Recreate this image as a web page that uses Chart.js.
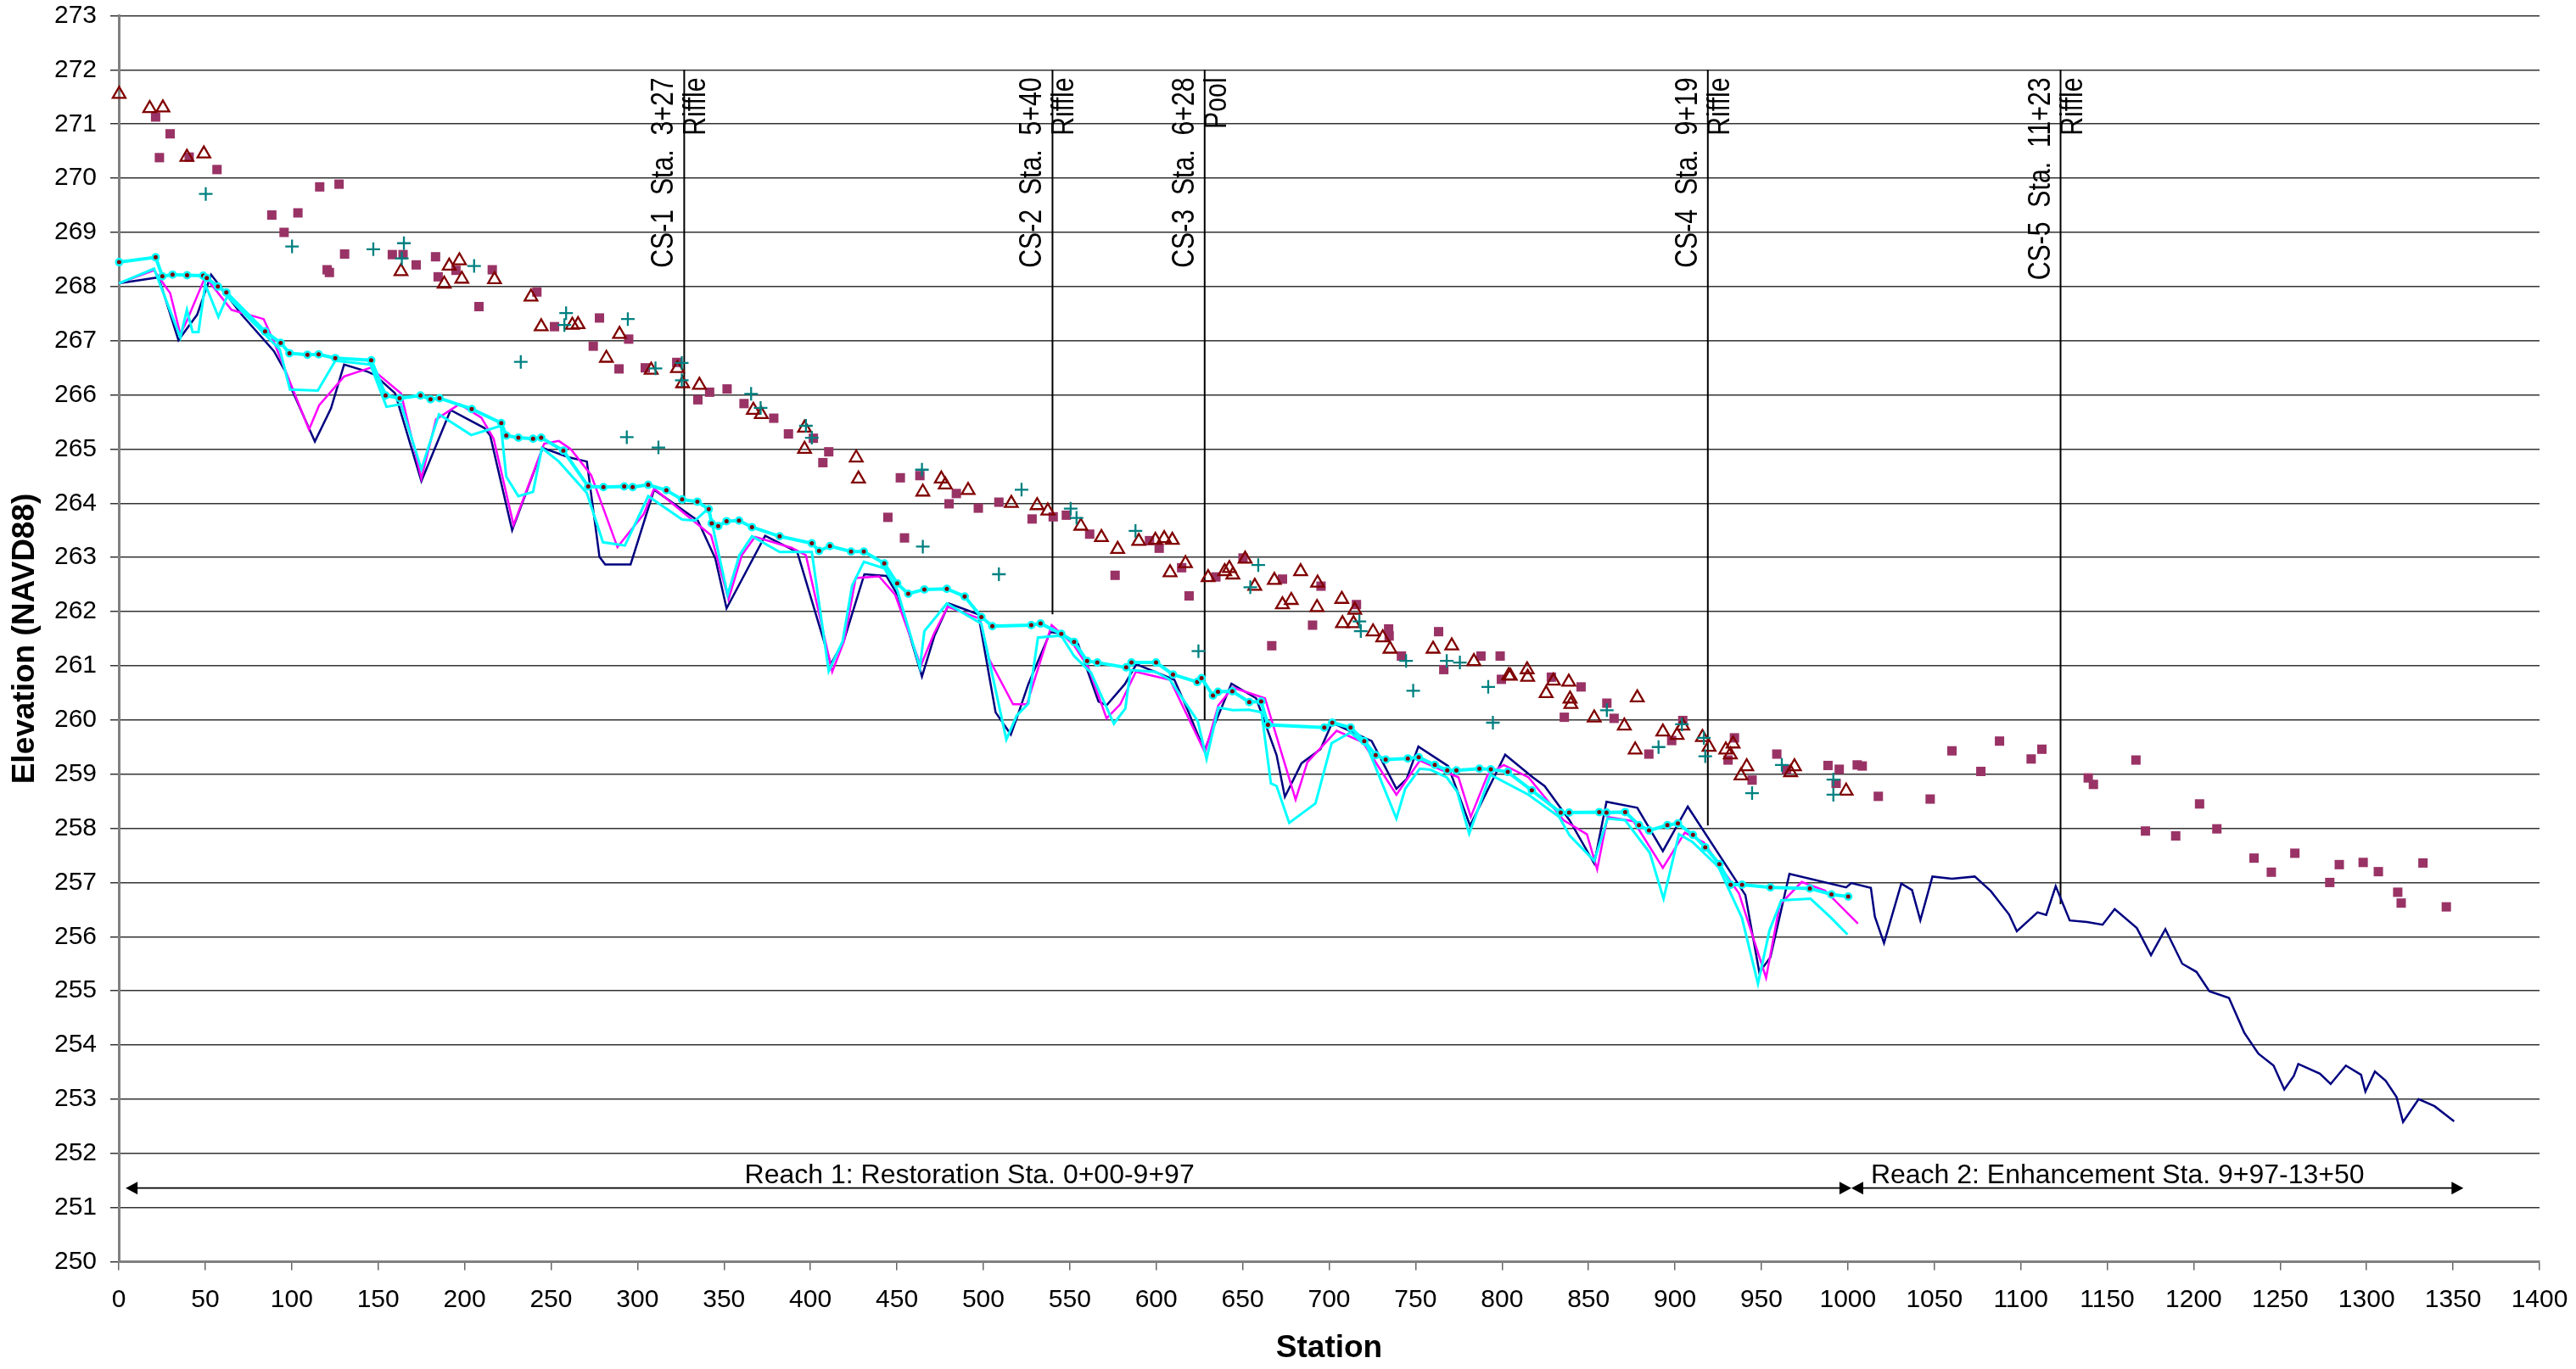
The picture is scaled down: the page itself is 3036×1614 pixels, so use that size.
<!DOCTYPE html>
<html><head><meta charset="utf-8">
<script src="https://cdn.jsdelivr.net/npm/chart.js@4.4.1/dist/chart.umd.min.js"></script>
<style>html,body{margin:0;padding:0;background:#fff;}#wrap{width:3036px;height:1614px;}</style>
</head><body><div id="wrap"><canvas id="c" width="3036" height="1614"></canvas></div>
<script>
// ---- Navy profile (full length) ----
const navySta = [0,23,34.5,45.3,53.4,71.1,89.7,96.5,99.9,113.4,122.7,130.3,143.8,148,159.8,175,191.9,211.4,214.8,227.5,245.2,260,270.7,278,281.3,296,309.6,334.9,345,351.5,373.8,392.4,411.8,419.4,431.2,443.9,450.7,464.5,471.8,480.2,497.1,507.1,515.9,519.3,526,538.7,544.6,554.7,566.6,571.3,581.8,588.5,610.5,618.1,627.9,632.5,643.5,657.8,669.6,674.4,684,695,701.8,713.6,724.6,738.9,744.8,751.6,768.8,781.5,801.8,817.8,824.6,839,853.3,860.4,878.2,893,907.4,940.7,948.8,955.2,966.2,999,1002,1013.3,1015.6,1020.9,1030.9,1037.1,1041.9,1048.9,1060.2,1073.4,1082.7,1093.2,1097.7,1109.7,1114.7,1120.2,1128.3,1138.3,1147.3,1154.3,1167.1,1175.3,1183.6,1193.4,1201.6,1209.1,1220.4,1229.2,1237.4,1246.2,1252.4,1257.9,1260.5,1273,1279.2,1288,1296.8,1299.3,1304.8,1311,1317.3,1321.1,1330.1,1339.3,1350.6];
const navyElev = [268.06,268.17,267.01,267.48,268.22,267.48,266.81,266.42,266.11,265.14,265.75,266.56,266.43,266.37,266.03,264.41,265.72,265.39,265.25,263.5,265.02,264.85,264.77,263.01,262.87,262.87,264.25,263.68,262.98,262.06,263.4,263.1,261.03,261.47,262.69,262.66,262.29,260.8,261.56,262.15,261.95,260.14,259.73,260.03,260.66,261.62,261.6,261.41,260.34,260.27,260.66,261.03,260.74,260.19,259.43,259.82,260.67,260.4,259.35,258.58,259.2,259.46,259.95,259.77,259.61,258.73,258.91,259.51,259.15,258.05,259.36,258.94,258.78,258.15,257.35,258.49,258.38,257.58,258.4,256.77,255.34,255.62,257.16,256.91,256.99,256.9,256.37,255.88,256.98,256.86,256.3,257.11,257.07,257.11,256.84,256.41,256.1,256.45,256.4,256.93,256.3,256.27,256.22,256.51,256.16,255.66,256.14,255.5,255.35,254.99,254.87,254.23,253.84,253.62,253.18,253.43,253.65,253.47,253.28,253.62,253.45,253.14,253.51,253.34,253.04,252.58,253,252.87,252.59];

// ---- Magenta profile ----
const magentaSta = [0,20.4,29.7,35.6,39.4,50,65.2,83.8,89.7,110,115.9,130.3,145.5,163.2,175,183.5,197,209.7,216.8,228.3,246,254.5,261.4,273.2,288.4,303.6,309.6,342.5,352.6,360.3,367.9,389,397.4,412.6,419.4,426.2,439.7,449,463.8,471.4,479.4,498,503.2,517.2,525.2,539.5,552.2,560.7,571.3,579.2,588.2,608,628.2,635.9,644.3,662.9,680.6,687.4,704.3,719.5,738.9,752.4,774.8,781.9,791.7,801,815.3,835.6,849.1,855,861,876.1,893,905.7,916.7,937,952.7,960.6,973.3,986.8,1005.8];
const magentaElev = [268.06,268.3,267.88,267.12,267.37,268.18,267.57,267.4,266.98,265.36,265.81,266.34,266.5,266.03,264.46,265.55,265.83,265.58,265.19,263.6,265.1,265.15,265,264.52,263.19,263.8,264.27,263.41,262.23,263.04,263.38,263.18,263.04,260.89,261.45,262.62,262.65,262.31,261,261.59,262.09,261.87,261.13,260.29,260.29,261.75,261.39,260.97,260.03,260.29,260.89,260.74,259.4,260.27,260.6,260.4,258.53,259.22,259.8,259.59,258.62,259.25,258.94,258.21,258.99,259.17,258.94,258.15,257.89,257.24,258.21,258.13,257.27,257.92,257.74,256.8,255.24,256.59,257.01,256.85,256.24];

// ---- Cyan profile ----
const cyanSta = [0,20.4,35.6,39.4,42.7,46.1,50,57.6,62.7,93.1,99,115.1,125.2,145.5,154.8,163.2,175,185.2,203.8,221,224.1,231.1,239.6,244.7,254.5,270.7,280,292.7,306.2,325.8,333.2,341.2,352.1,358.9,366.2,382.2,400.8,410.6,418.6,424.1,430.9,442.7,450.2,463.3,465.9,478.9,498.8,513.3,519.3,526,531.6,545,552.5,562.3,575.5,582.1,585.2,599.5,608,624,629.1,635.9,644.3,653.6,660.9,666.3,669.6,676.9,692.1,701.4,712.4,722,738.9,744,752.4,758.7,768,774,781,793.3,815.3,833,839,853.3,861,871.1,885.4,893.4,902.3,910,925.1,938.7,948,954.7,961.5,978.4,990.2,999.8];
const cyanElev = [268.06,268.33,267.06,267.57,267.16,267.16,268.04,267.44,267.82,266.84,266.1,266.08,266.63,266.56,265.78,265.83,264.63,265.64,265.26,265.43,264.49,264.13,264.21,265.02,264.77,264.19,263.28,263.22,264.13,263.7,263.68,263.91,262.31,263.04,263.39,263.1,263.1,260.9,261.45,262.48,262.92,262.8,262.4,260.97,261.64,262.15,261.78,259.64,260.08,260.3,261.52,261.56,261.18,260.87,259.93,260.21,260.92,260.89,260.74,259.98,259.28,260.23,260.18,260.19,260.14,258.83,258.78,258.1,258.46,259.57,259.77,259.51,258.18,258.73,259.1,259.08,258.94,258.68,257.9,258.99,258.62,258.21,257.87,257.4,258.18,258.15,257.55,256.7,257.89,257.75,257.29,256.35,255.13,256.12,256.67,256.7,256.35,256.04];

// ---- Water surface (cyan with dots) ----
const wsSta = [0.2,21.3,25.2,31.1,39.5,48.8,50.9,57.3,62.2,84.6,93.6,98.7,109.1,115.6,125.2,146,154.3,162.4,174.5,180.3,185.5,204.1,221.2,224.1,231.1,239.6,244.3,257.1,271.5,280.3,292.3,297.2,306.2,316.7,325.8,334.6,341.2,342.9,346.7,351.5,358.7,366.2,382.2,400.8,405,411.3,423.5,430.9,442.7,450.2,456.6,465.9,478.9,489.2,498.9,505.2,527.7,533.1,545.1,552.5,560,565.9,582.6,585.7,599.9,609.7,623.7,626.2,632.8,635.7,644,653.8,660.7,664.6,697.2,701.8,712.4,720.3,726.9,732.7,745.5,751.8,761.1,768.3,773.6,786.9,793.5,803.3,817.2,833.9,838.8,856.2,860.4,871.2,879.2,885,895.6,901.7,910.4,917.5,925.7,932.2,938.8,955.2,978,990.5,1000.2];
const wsElev = [268.45,268.54,268.19,268.22,268.21,268.2,268.16,268,267.89,267.17,266.96,266.77,266.74,266.75,266.68,266.64,265.99,265.94,265.99,265.92,265.94,265.74,265.48,265.25,265.21,265.19,265.21,264.97,264.31,264.3,264.31,264.3,264.34,264.24,264.07,264.03,263.89,263.63,263.58,263.67,263.68,263.56,263.39,263.26,263.12,263.21,263.11,263.11,262.89,262.52,262.33,262.41,262.42,262.28,261.9,261.73,261.75,261.78,261.59,261.44,261.09,261.06,260.97,261.06,261.06,260.84,260.7,260.77,260.45,260.52,260.53,260.33,260.34,259.91,259.86,259.95,259.86,259.61,259.35,259.27,259.29,259.31,259.17,259.07,259.07,259.1,259.09,259.04,258.7,258.29,258.29,258.3,258.29,258.3,258.06,257.96,258.06,258.09,257.88,257.65,257.34,256.96,256.96,256.91,256.89,256.78,256.74];

// ---- Squares ----
const sqSta = [21.3,23.5,29.7,40.7,56.8,88.5,95.6,103.6,116.2,120.5,121.8,127.4,130.6,158.2,164.4,172,183.2,184.7,195,208.3,216,241.8,252,274.4,278,289.3,294.9,304.5,322.7,334.9,341.7,351.8,361.6,378.8,387.3,401.7,407.2,410.6,444.8,452,454.4,463.3,480.2,484.4,497.1,509,528.2,540.4,548,561.5,576.2,596.1,601.7,614.7,619,634.5,650.2,666.8,673,690.4,695.3,715.8,734.4,734.7,741.8,763.3,766.3,787.8,798.9,799.6,828.5,836,845.7,860.6,864.8,884.9,898.1,904.5,930.7,934.4,944.6,958.9,964.5,988.5,993.2,995,1005.4,1008.3,1017.6,1047.6,1060.2,1076.9,1087.7,1106,1112.2,1139,1142,1166.6,1172.1,1189.6,1203.4,1213.4,1234.9,1244.9,1258.5,1278.7,1284.2,1298,1306.8,1318,1320,1332.6,1346.1];
const sqElev = [271.13,270.38,270.82,270.39,270.16,269.32,269,269.36,269.84,268.31,268.26,269.89,268.6,268.59,268.59,268.4,268.55,268.18,268.3,267.63,268.31,267.9,267.26,266.9,267.42,266.48,267.03,266.5,266.6,265.91,266.05,266.11,265.84,265.57,265.28,265.2,264.75,264.95,263.74,264.47,263.36,264.51,263.99,264.18,263.91,264.02,263.71,263.75,263.78,263.43,262.67,263.31,263.17,262.81,262.29,262.64,262.99,261.37,262.6,261.75,262.47,262.13,261.68,261.55,261.18,261.63,260.93,261.18,261.18,260.75,260.79,260.05,260.61,260.31,260.03,259.37,259.62,259.99,259.26,259.67,258.89,259.37,259.09,259.16,258.83,259.09,259.17,259.15,258.59,258.54,259.43,259.05,259.61,259.28,259.46,258.93,258.81,259.26,257.95,257.86,258.45,257.99,257.45,257.19,257.54,257,257.33,257.37,257.2,256.82,256.62,257.36,256.55];

// ---- Open triangles ----
const triSta = [0.2,17.9,25.5,39.4,49.2,163.2,188.2,191.1,197,198.4,217.3,238.4,244.3,262.3,265.6,282,289.6,307.9,323.1,326.1,335.8,367,371.6,396.6,396.6,426.5,427.8,465,475.7,478,491.2,516.2,531.1,537.3,556.4,568.3,577.7,589.9,599.5,604.6,608,609.3,616.9,630,639.6,642.3,644.3,651.4,657,668.3,673,678.1,683.5,693,693.3,707.3,707.7,714.1,714.8,725.4,731,735.2,760.1,770.9,783.7,803.8,804.8,814.5,814.8,825.5,829.7,838.6,839.3,839.8,853.3,870.7,877,878.2,893,901.2,904.5,915.9,919.7,929.4,932,933.6,938.2,941.5,966.9,969.1,999];
const triElev = [271.55,271.29,271.3,270.39,270.45,268.28,268.05,268.38,268.48,268.14,268.13,267.81,267.26,267.29,267.3,266.68,267.12,266.46,266.49,266.21,266.18,265.72,265.64,265.39,265,264.84,264.45,264.21,264.45,264.34,264.24,264,263.96,263.86,263.58,263.37,263.15,263.3,263.32,263.35,262.72,263.32,262.89,262.63,262.74,262.8,262.68,262.97,262.47,262.58,262.13,262.21,262.74,262.08,262.53,262.23,261.78,261.78,262.03,261.63,261.52,261.31,261.31,261.37,261.08,260.82,260.81,260.93,260.79,260.49,260.72,260.7,260.39,260.29,260.04,259.89,259.45,260.41,259.78,259.72,259.89,259.68,259.5,259.45,259.36,259.56,258.97,259.14,259.03,259.14,258.69];

// ---- Plus markers ----
const plusSta = [50.3,100.2,147.2,163.7,164.9,205.5,232.5,257.7,258.7,293.8,294.4,310.4,312.1,325.6,325.6,365.7,371.2,397.4,400.8,464.5,465,509,522.1,550.5,553.9,588,624.4,654.4,659,717.5,718.3,744.5,748.6,768,775.6,792,794.7,860.6,890.5,904,916.7,917.5,944.6,961.8,991.6,991.6];
const plusElev = [269.71,268.74,268.69,268.52,268.8,268.38,266.61,267.29,267.51,265.22,267.4,266.49,265.03,266.59,266.27,266.02,265.76,265.43,265.21,264.62,263.2,262.69,264.25,263.9,263.73,263.49,261.27,262.45,262.86,261.82,261.64,261.09,260.54,261.09,261.06,260.61,259.95,260.18,259.5,259.92,259.67,259.33,258.65,259.17,258.9,258.62];

// ---- Cross-section markers ----
const csSta = [327, 540, 628, 919, 1123];
const csTop = [272, 272, 272, 272, 272];
const csBottom = [264.0, 261.95, 260.0, 258.05, 256.6];
const csLabels = ['CS-1  Sta.  3+27', 'CS-2  Sta.  5+40', 'CS-3  Sta.  6+28', 'CS-4  Sta.  9+19', 'CS-5  Sta.  11+23'];
const csTypes = ['Riffle', 'Riffle', 'Pool', 'Riffle', 'Riffle'];

// ---- Reach annotations ----
const reachLabels = ['Reach 1: Restoration Sta. 0+00-9+97', 'Reach 2: Enhancement Sta. 9+97-13+50'];
const reachStart = [4, 1002];
const reachEnd = [1002, 1356];
const reachLabelSta = [492, 1156];
const reachElev = 251.36;

// ---- Axes ----
const xMin = 0, xMax = 1400, xStep = 50;
const yMin = 250, yMax = 273, yStep = 1;
const xTitle = 'Station';
const yTitle = 'Elevation (NAVD88)';

const FONT = "'Liberation Sans', Arial, sans-serif";
Chart.defaults.font.family = FONT;
Chart.defaults.color = '#000';

function pts(xs, ys) { return xs.map((x, i) => ({ x: x, y: ys[i] })); }

const datasets = [];
datasets.push({ label: 'plus', data: pts(plusSta, plusElev), showLine: false, clip: false, pointStyle: 'cross', pointRadius: 8, pointBorderColor: '#008080', pointBorderWidth: 2.3, pointBackgroundColor: '#008080' });
datasets.push({ label: 'tri', data: pts(triSta, triElev), showLine: false, clip: false, pointStyle: 'triangle', pointRadius: 8.7, pointBorderColor: '#800000', pointBorderWidth: 2.3, pointBackgroundColor: 'rgba(0,0,0,0)' });
datasets.push({ label: 'sq', data: pts(sqSta, sqElev), showLine: false, clip: false, pointStyle: 'rect', pointRadius: 7.8, pointBorderWidth: 0, pointBorderColor: '#993366', pointBackgroundColor: '#993366' });
datasets.push({ label: 'ws', data: pts(wsSta, wsElev), showLine: true, clip: false, borderColor: '#00FFFF', borderWidth: 4, pointRadius: 3.75, pointStyle: 'circle', pointBackgroundColor: '#800000', pointBorderColor: '#00FFFF', pointBorderWidth: 2.5 });
datasets.push({ label: 'cyan', data: pts(cyanSta, cyanElev), showLine: true, borderColor: '#00FFFF', borderWidth: 3, pointRadius: 0 });
datasets.push({ label: 'magenta', data: pts(magentaSta, magentaElev), showLine: true, borderColor: '#FF00FF', borderWidth: 2.5, pointRadius: 0 });
datasets.push({ label: 'navy', data: pts(navySta, navyElev), showLine: true, borderColor: '#000080', borderWidth: 2.5, pointRadius: 0 });
csSta.forEach((s, i) => {
  datasets.push({ label: 'cs' + i, data: [{ x: s, y: csTop[i] }, { x: s, y: csBottom[i] }], showLine: true, borderColor: '#000', borderWidth: 2, pointRadius: 0 });
});

const annot = {
  id: 'annot',
  afterDatasetsDraw(chart) {
    const ctx = chart.ctx, xs = chart.scales.x, ys = chart.scales.y;
    ctx.save();
    ctx.fillStyle = '#000';
    // CS labels
    ctx.font = '36px ' + FONT;
    ctx.textAlign = 'right';
    ctx.textBaseline = 'alphabetic';
    csSta.forEach((s, i) => {
      const px = xs.getPixelForValue(s);
      const py = ys.getPixelForValue(csTop[i]) + 9;
      [[csLabels[i], px - 13], [csTypes[i], px + 25]].forEach(([t, bx]) => {
        ctx.save();
        ctx.translate(bx, py);
        ctx.rotate(-Math.PI / 2);
        ctx.scale(0.84, 1);
        ctx.fillText(t, 0, 0);
        ctx.restore();
      });
    });
    // Reach arrows
    const ay = ys.getPixelForValue(reachElev);
    ctx.strokeStyle = '#000';
    ctx.lineWidth = 1.6;
    reachStart.forEach((s, i) => {
      const x1 = xs.getPixelForValue(s), x2 = xs.getPixelForValue(reachEnd[i]);
      ctx.beginPath(); ctx.moveTo(x1 + 10, ay); ctx.lineTo(x2 - 10, ay); ctx.stroke();
      ctx.beginPath(); ctx.moveTo(x1, ay); ctx.lineTo(x1 + 14, ay - 7.5); ctx.lineTo(x1 + 14, ay + 7.5); ctx.closePath(); ctx.fill();
      ctx.beginPath(); ctx.moveTo(x2, ay); ctx.lineTo(x2 - 14, ay - 7.5); ctx.lineTo(x2 - 14, ay + 7.5); ctx.closePath(); ctx.fill();
      ctx.font = '32px ' + FONT;
      ctx.textAlign = 'center';
      ctx.textBaseline = 'alphabetic';
      ctx.fillText(reachLabels[i], xs.getPixelForValue(reachLabelSta[i]), ay - 6);
    });
    ctx.restore();
  },
  afterDraw(chart) {
    const ctx = chart.ctx, ca = chart.chartArea;
    ctx.save();
    ctx.fillStyle = '#000';
    ctx.font = 'bold 37px ' + FONT;
    ctx.textAlign = 'center';
    ctx.textBaseline = 'alphabetic';
    ctx.fillText(xTitle, (ca.left + ca.right) / 2, 1600);
    ctx.translate(40, (ca.top + ca.bottom) / 2);
    ctx.rotate(-Math.PI / 2);
    ctx.fillText(yTitle, 0, 0);
    ctx.restore();
  }
};

new Chart(document.getElementById('c'), {
  type: 'scatter',
  data: { datasets: datasets },
  options: {
    responsive: false,
    animation: false,
    devicePixelRatio: 1,
    layout: { padding: { left: 0, right: 43, top: 18.5, bottom: 0 } },
    plugins: { legend: { display: false }, tooltip: { enabled: false } },
    elements: { line: { tension: 0 } },
    scales: {
      x: {
        type: 'linear', min: xMin, max: xMax,
        afterFit(s) { s.height = 126.5; s.paddingLeft = 0; s.paddingRight = 0; },
        ticks: { stepSize: xStep, autoSkip: false, maxRotation: 0, font: { size: 30 }, color: '#000', padding: 17, callback: (v) => String(v) },
        grid: { drawOnChartArea: false, drawTicks: true, tickLength: 10, color: '#666', lineWidth: 1.5 },
        border: { color: '#808080', width: 3 }
      },
      y: {
        type: 'linear', min: yMin, max: yMax,
        afterFit(s) { s.width = 140; s.paddingTop = 0; s.paddingBottom = 0; },
        ticks: { stepSize: yStep, font: { size: 30 }, color: '#000', padding: 16, callback: (v) => String(v) },
        grid: { color: '#333', lineWidth: 1.5, tickLength: 10 },
        border: { color: '#808080', width: 3 }
      }
    }
  },
  plugins: [annot]
});
</script>
</body></html>
